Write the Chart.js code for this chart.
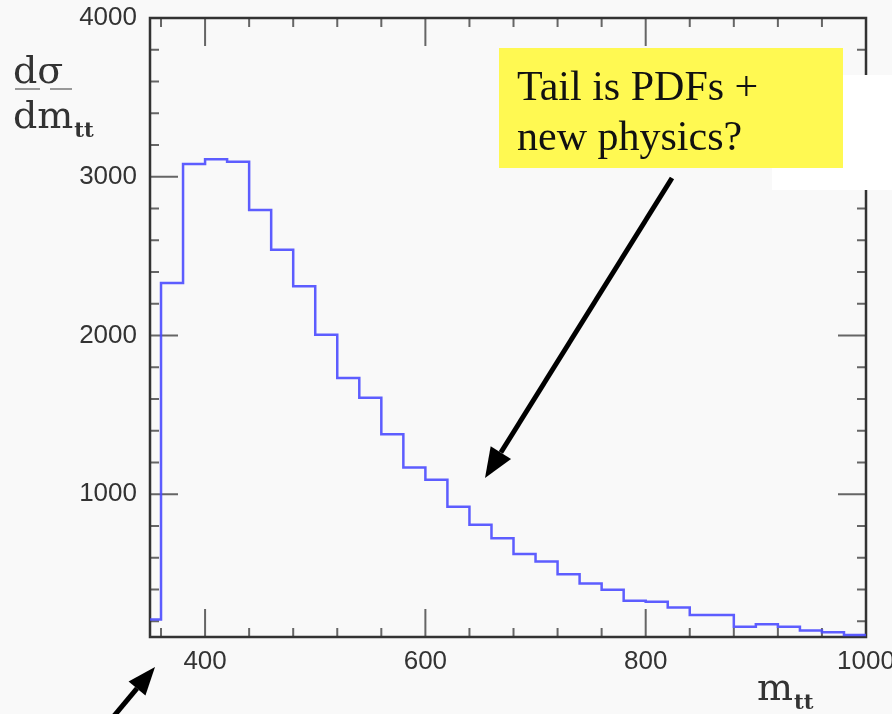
<!DOCTYPE html>
<html>
<head>
<meta charset="utf-8">
<script src="https://cdn.jsdelivr.net/npm/chart.js@4.4.1/dist/chart.umd.min.js"></script>
<style>
  body { margin: 0; background: #f9f9f9; }
  #wrap { width: 892px; height: 714px; position: relative; }
</style>
</head>
<body>
<div id="wrap"><canvas id="grafico"></canvas></div>
<script>
// ----- dados do histograma (m_tt, bins de 20) -----
const binEdges = [340, 360, 380, 400, 420, 440, 460, 480, 500, 520, 540, 560, 580, 600, 620, 640, 660,
  680, 700, 720, 740, 760, 780, 800, 820, 840, 860, 880, 900, 920, 940, 960, 980, 1000];
const binValues = [210, 2330, 3080, 3110, 3095, 2790, 2540, 2310, 2005, 1732, 1607, 1377, 1168, 1090,
  920, 807, 722, 623, 575, 495, 437, 398, 328, 322, 286, 238, 238, 165, 180, 164, 141, 130, 112];

const xTickLabels = [400, 600, 800, 1000];
const yTickLabels = [1000, 2000, 3000, 4000];
const xMinorTicks = [360, 440, 480, 520, 560, 640, 680, 720, 760, 840, 880, 920, 960];
const yMinorTicks = [200, 400, 600, 800, 1200, 1400, 1600, 1800, 2200, 2400, 2600, 2800, 3200, 3400, 3600, 3800];

const noteLines = ['Tail is PDFs +', 'new physics?'];

// pontos do degrau: borda inferior de cada bin + borda final
const pontos = binValues.map((v, i) => ({ x: binEdges[i], y: v }));
pontos.push({ x: binEdges[binEdges.length - 1], y: binValues[binValues.length - 1] });

function drawArrow(ctx, x1, y1, x2, y2, lw, headLen, headW) {
  const ang = Math.atan2(y2 - y1, x2 - x1);
  const bx = x2 - headLen * Math.cos(ang);
  const by = y2 - headLen * Math.sin(ang);
  ctx.save();
  ctx.strokeStyle = '#000';
  ctx.fillStyle = '#000';
  ctx.lineWidth = lw;
  ctx.beginPath();
  ctx.moveTo(x1, y1);
  ctx.lineTo(bx, by);
  ctx.stroke();
  ctx.beginPath();
  ctx.moveTo(x2, y2);
  ctx.lineTo(bx + headW / 2 * Math.sin(ang), by - headW / 2 * Math.cos(ang));
  ctx.lineTo(bx - headW / 2 * Math.sin(ang), by + headW / 2 * Math.cos(ang));
  ctx.closePath();
  ctx.fill();
  ctx.restore();
}

// moldura + ticks internos, desenhados com as escalas do Chart.js
const molduraPlugin = {
  id: 'moldura',
  beforeDraw(chart) {
    const ctx = chart.ctx;
    ctx.save();
    ctx.fillStyle = '#f9f9f9';
    ctx.fillRect(0, 0, chart.width, chart.height);
    ctx.restore();
  },
  beforeDatasetsDraw(chart) {
    const { ctx, chartArea: a, scales } = chart;
    const xs = scales.x, ys = scales.y;
    ctx.save();
    ctx.strokeStyle = '#666';
    ctx.lineWidth = 2;
    const major = 28, minor = 9;
    xTickLabels.forEach(v => {
      const px = xs.getPixelForValue(v);
      if (px >= a.right - 2) return;
      ctx.beginPath();
      ctx.moveTo(px, a.bottom); ctx.lineTo(px, a.bottom - major);
      ctx.moveTo(px, a.top); ctx.lineTo(px, a.top + major);
      ctx.stroke();
    });
    xMinorTicks.forEach(v => {
      const px = xs.getPixelForValue(v);
      ctx.beginPath();
      ctx.moveTo(px, a.bottom); ctx.lineTo(px, a.bottom - minor);
      ctx.moveTo(px, a.top); ctx.lineTo(px, a.top + minor);
      ctx.stroke();
    });
    yTickLabels.forEach(v => {
      const py = ys.getPixelForValue(v);
      if (py <= a.top + 2) return;
      ctx.beginPath();
      ctx.moveTo(a.left, py); ctx.lineTo(a.left + major, py);
      ctx.moveTo(a.right, py); ctx.lineTo(a.right - major, py);
      ctx.stroke();
    });
    yMinorTicks.forEach(v => {
      const py = ys.getPixelForValue(v);
      ctx.beginPath();
      ctx.moveTo(a.left, py); ctx.lineTo(a.left + minor, py);
      ctx.moveTo(a.right, py); ctx.lineTo(a.right - minor, py);
      ctx.stroke();
    });
    ctx.strokeStyle = '#333';
    ctx.lineWidth = 2.5;
    ctx.strokeRect(a.left, a.top, a.right - a.left, a.bottom - a.top);
    ctx.restore();
  },
  afterDraw(chart) {
    const ctx = chart.ctx;
    ctx.save();
    // titulo do eixo y: dσ / dm_tt
    ctx.fillStyle = '#333';
    ctx.textBaseline = 'alphabetic';
    ctx.font = '38px "DejaVu Serif"';
    ctx.fillText('dσ', 13, 83);
    ctx.fillText('dm', 13, 128);
    const wdm = ctx.measureText('dm').width;
    ctx.strokeStyle = '#999';
    ctx.lineWidth = 2;
    ctx.setLineDash([25, 10]);
    ctx.beginPath(); ctx.moveTo(15, 89); ctx.lineTo(72, 89); ctx.stroke();
    ctx.setLineDash([]);
    ctx.font = 'bold 21px "DejaVu Serif"';
    ctx.fillText('tt', 13 + wdm + 1, 137);
    // titulo do eixo x: m_tt
    ctx.font = '38px "DejaVu Serif"';
    ctx.fillText('m', 757, 700);
    const wm = ctx.measureText('m').width;
    ctx.font = 'bold 21px "DejaVu Serif"';
    ctx.fillText('tt', 757 + wm + 1, 709);

    // faixa branca e caixa amarela
    ctx.fillStyle = '#ffffff';
    ctx.fillRect(772, 75, 120, 115);
    ctx.fillStyle = '#fff952';
    ctx.fillRect(499, 48, 344, 120);
    ctx.fillStyle = '#111';
    ctx.font = '42px "Liberation Serif"';
    ctx.fillText(noteLines[0], 517, 100);
    ctx.fillText(noteLines[1], 517, 150);

    // setas
    drawArrow(ctx, 672, 178, 485, 478, 5, 30, 24);
    drawArrow(ctx, 98, 735, 155, 667, 5, 28, 22);
    ctx.restore();
  }
};

const ctxGrafico = document.getElementById('grafico').getContext('2d');

new Chart(ctxGrafico, {
  type: 'line',
  data: {
    datasets: [{
      label: 'dsigma/dmtt',
      data: pontos,
      stepped: 'before',
      borderColor: 'rgba(75, 75, 255, 0.9)',
      borderWidth: 2.5,
      pointRadius: 0,
      fill: false,
      tension: 0
    }]
  },
  options: {
    responsive: true,
    maintainAspectRatio: false,
    animation: false,
    layout: { padding: { left: 0, top: 18, right: 26, bottom: 0 } },
    plugins: {
      legend: { display: false },
      tooltip: { enabled: false }
    },
    scales: {
      x: {
        type: 'linear',
        min: 350,
        max: 1000,
        grid: { display: false, drawTicks: false },
        border: { display: false },
        afterBuildTicks: s => { s.ticks = xTickLabels.map(v => ({ value: v })); },
        afterFit: s => { s.height = 77; s.paddingLeft = 0; s.paddingRight = 0; },
        ticks: {
          padding: 9,
          maxRotation: 0,
          color: '#333',
          font: { family: 'Liberation Sans', size: 26 },
          callback: v => String(v)
        }
      },
      y: {
        type: 'linear',
        min: 100,
        max: 4000,
        grid: { display: false, drawTicks: false },
        border: { display: false },
        afterBuildTicks: s => { s.ticks = yTickLabels.map(v => ({ value: v })); },
        afterFit: s => { s.width = 150; s.paddingTop = 0; s.paddingBottom = 0; },
        ticks: {
          padding: 13,
          color: '#333',
          font: { family: 'Liberation Sans', size: 26 },
          callback: v => String(v)
        }
      }
    }
  },
  plugins: [molduraPlugin]
});
</script>
</body>
</html>
